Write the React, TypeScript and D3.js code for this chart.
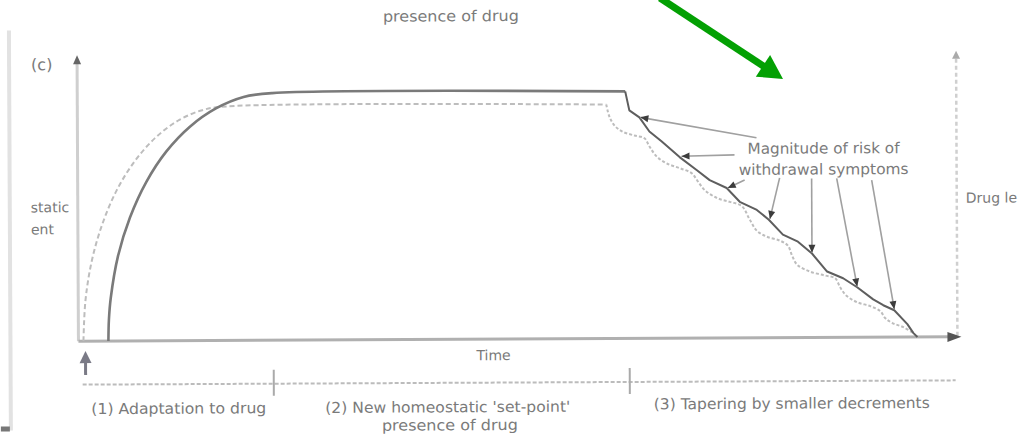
import React from "react";
import * as d3 from "d3";

// ---- data (time 0-100, level 0-100) ----
const adaptSetPoint: [number, number][] = [
  [3.41, 0], [3.48, 7.6], [3.7, 15.2], [4.54, 29.9], [5.93, 43.6], [7.8, 56.1],
  [10.11, 66.9], [12.8, 75.6], [15.77, 82.0], [18.92, 86.0], [22.18, 87.3], [62.34, 87.3],
];
const adaptDrug: [number, number][] = [
  [0.57, 0], [0.82, 14.3], [1.56, 28.3], [2.78, 41.3], [4.43, 53.2], [6.46, 63.3],
  [8.82, 71.6], [11.43, 77.7], [14.2, 81.4], [17.06, 82.7], [60.18, 82.7],
];
const taperSetPoint: [number, number][] = [
  [62.34, 87.3], [62.8, 80.6], [63.94, 78.1], [65.07, 73.1], [66.44, 69.6], [68.49, 64.0],
  [70.42, 59.4], [71.9, 55.8], [73.83, 53.0], [75.31, 48.1], [77.25, 45.2], [78.61, 41.7],
  [80.2, 36.4], [81.91, 33.9], [83.5, 29.7], [85.21, 23.3], [87.03, 20.9], [88.62, 17.7],
  [90.44, 13.4], [91.58, 11.3], [92.83, 9.5], [94.31, 4.6], [95.0, 1.4], [95.45, 0],
];
const taperDrug: [number, number][] = [
  [60.18, 82.7], [60.52, 78.5], [61.09, 75.3], [62.0, 73.1], [63.37, 71.7], [64.51, 70.7],
  [65.07, 67.8], [65.87, 64.3], [67.01, 61.8], [68.49, 60.1], [69.85, 58.3],
  [70.53, 55.5], [71.33, 52.3], [72.7, 49.5], [74.18, 48.1], [75.54, 46.6],
  [76.45, 41.7], [77.25, 37.8], [78.38, 35.7], [79.86, 34.3], [80.77, 32.5],
  [81.23, 29.0], [81.8, 25.8], [83.28, 23.3], [84.98, 21.9], [86.12, 20.9],
  [86.69, 17.7], [87.37, 14.8], [88.62, 12.4], [90.1, 11.0], [91.24, 9.2],
  [91.81, 6.7], [92.61, 5.0], [93.86, 3.5], [95.0, 1.4],
];
const riskArrowFrom: [number, number][] = [
  [77.25, 70.7], [74.74, 64.7], [75.88, 55.8], [79.86, 56.5], [83.5, 56.2], [86.35, 56.2], [90.33, 55.5],
];
const riskArrowTo: [number, number][] = [
  [64.05, 78.1], [68.71, 64.3], [73.95, 53.0], [78.73, 42.0], [83.5, 30.0], [88.62, 18.0], [92.83, 9.9],
];
const phaseTicks = [22.2, 62.7];
const phaseLabels = [
  "(1) Adaptation to drug",
  "(2) New homeostatic 'set-point'",
  "(3) Tapering by smaller decrements",
];

const FONT = "DejaVu Sans, Verdana, sans-serif";
const TXT = "#7a7a7a";

function Head({ x1, y1, x2, y2, len = 8, w = 3.5, fill = "#444" }: any) {
  const deg = (Math.atan2(y2 - y1, x2 - x1) * 180) / Math.PI;
  return (
    <polygon
      points={`0,0 ${-len},${-w} ${-len},${w}`}
      transform={`translate(${x2},${y2}) rotate(${deg})`}
      fill={fill}
    />
  );
}

export default function App() {
  const x = d3.scaleLinear().domain([0, 100]).range([78, 957]);
  const y = d3.scaleLinear().domain([0, 100]).range([339, 56]);
  const smooth = d3
    .line<[number, number]>()
    .x((d) => x(d[0]))
    .y((d) => y(d[1]))
    .curve(d3.curveCatmullRom.alpha(0.5));
  const straight = d3
    .line<[number, number]>()
    .x((d) => x(d[0]))
    .y((d) => y(d[1]));

  const y0 = y(0);
  const divY = 382.5;

  // green arrow
  const gx1 = 660, gy1 = -2, gx2 = 783, gy2 = 79;
  const gAng = Math.atan2(gy2 - gy1, gx2 - gx1);
  const gBaseX = gx2 - 20 * Math.cos(gAng);
  const gBaseY = gy2 - 20 * Math.sin(gAng);

  return (
    <svg
      width={1027}
      height={435}
      style={{ position: "absolute", left: 0, top: 0, background: "#fff" }}
      fontFamily={FONT}
    >
      <rect width={1027} height={435} fill="#fff" />
      <g transform="rotate(-0.28 517 250)">
        {/* outer left frame line */}
        <line x1={10} y1={28} x2={10} y2={428} stroke="#e2e2e2" strokeWidth={4} />
        <rect x={0} y={424} width={9} height={5} fill="#777" />

        {/* top text from previous panel */}
        <text x={452} y={21} textAnchor="middle" fontSize={15} fill={TXT} textLength={136} lengthAdjust="spacingAndGlyphs">
          presence of drug
        </text>

        <text x={32} y={68} fontSize={16} fill={TXT}>(c)</text>
        <text x={31} y={210} fontSize={14} fill={TXT}>static</text>
        <text x={31} y={232} fontSize={14} fill={TXT}>ent</text>

        {/* y axis */}
        <line x1={x(0)} y1={y0} x2={x(0)} y2={60} stroke="#cfcfcf" strokeWidth={3} />
        <Head x1={x(0)} y1={80} x2={x(0)} y2={53} len={9} w={4} fill="#666" />

        {/* right drug level axis */}
        <line x1={957} y1={y0 - 1} x2={957} y2={60} stroke="#cfcfcf" strokeWidth={2.5} strokeDasharray="4,3" />
        <Head x1={957} y1={80} x2={957} y2={53} len={8} w={4} fill="#aaa" />
        <text x={966} y={205} fontSize={14} fill={TXT}>Drug le</text>

        {/* x axis */}
        <line x1={x(0)} y1={y0} x2={952} y2={y0} stroke="#b0b0b0" strokeWidth={3} />
        <Head x1={900} y1={y0} x2={961} y2={y0} len={14} w={5} fill="#555" />
        <text x={493} y={360} textAnchor="middle" fontSize={14} fill={TXT}>Time</text>

        {/* curves: drug level (dashed) */}
        <path d={smooth(adaptDrug) || ""} fill="none" stroke="#bdbdbd" strokeWidth={2} strokeDasharray="5,3" />
        <path d={smooth(taperDrug) || ""} fill="none" stroke="#bdbdbd" strokeWidth={2} strokeDasharray="3,2" />

        {/* homeostatic set point (solid) */}
        <path d={smooth(adaptSetPoint) || ""} fill="none" stroke="#7a7a7a" strokeWidth={2.6} />
        <path d={straight(taperSetPoint) || ""} fill="none" stroke="#5e5e5e" strokeWidth={2} strokeLinejoin="round" />

        {/* risk arrows */}
        {riskArrowFrom.map((f, i) => {
          const t = riskArrowTo[i];
          return (
            <g key={i}>
              <line x1={x(f[0])} y1={y(f[1])} x2={x(t[0])} y2={y(t[1])} stroke="#a0a0a0" strokeWidth={1.6} />
              <Head x1={x(f[0])} y1={y(f[1])} x2={x(t[0])} y2={y(t[1])} len={8} w={3.5} fill="#3c3c3c" />
            </g>
          );
        })}
        <text x={824} y={155} textAnchor="middle" fontSize={15} fill={TXT} textLength={152} lengthAdjust="spacingAndGlyphs">
          Magnitude of risk of
        </text>
        <text x={824} y={176} textAnchor="middle" fontSize={15} fill={TXT} textLength={170} lengthAdjust="spacingAndGlyphs">
          withdrawal symptoms
        </text>

        {/* start-of-drug arrow */}
        <line x1={85} y1={360} x2={85} y2={373} stroke="#7a7a86" strokeWidth={3} />
        <Head x1={85} y1={380} x2={85} y2={349} len={12} w={6} fill="#7a7a86" />

        {/* phase divider */}
        <line x1={82} y1={divY} x2={955} y2={divY} stroke="#bcbcbc" strokeWidth={2} strokeDasharray="4,2" />
        {phaseTicks.map((p, i) => (
          <line key={i} x1={x(p)} y1={divY - 14} x2={x(p)} y2={divY + 12} stroke="#aaa" strokeWidth={2} />
        ))}
        <text x={178} y={412} textAnchor="middle" fontSize={15} fill={TXT} textLength={175} lengthAdjust="spacingAndGlyphs">
          {phaseLabels[0]}
        </text>
        <text x={447} y={412} textAnchor="middle" fontSize={15} fill={TXT} textLength={245} lengthAdjust="spacingAndGlyphs">
          {phaseLabels[1]}
        </text>
        <text x={449} y={430} textAnchor="middle" fontSize={15} fill={TXT} textLength={136} lengthAdjust="spacingAndGlyphs">
          presence of drug
        </text>
        <text x={791} y={410} textAnchor="middle" fontSize={15} fill={TXT} textLength={276} lengthAdjust="spacingAndGlyphs">
          {phaseLabels[2]}
        </text>
      </g>

      {/* green arrow */}
      <line x1={gx1} y1={gy1} x2={gBaseX} y2={gBaseY} stroke="#03a003" strokeWidth={7} />
      <Head x1={gx1} y1={gy1} x2={gx2} y2={gy2} len={24} w={13} fill="#03a003" />
    </svg>
  );
}
